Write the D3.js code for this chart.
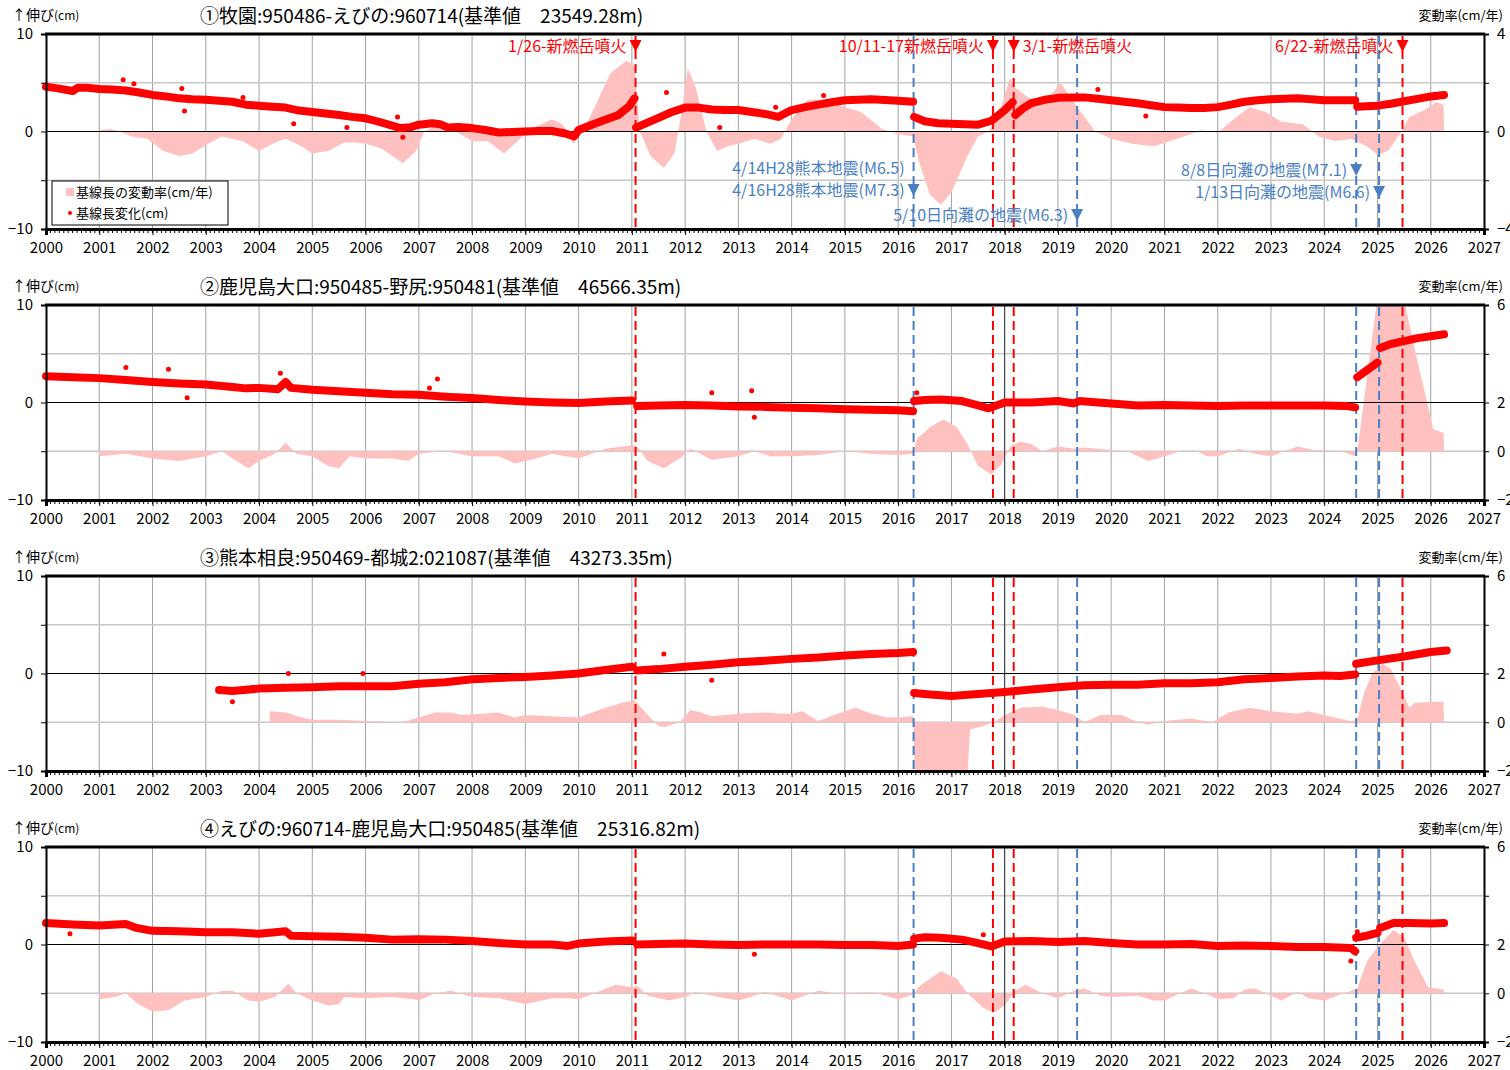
<!DOCTYPE html>
<html>
<head>
<meta charset="utf-8">
<script src="https://cdn.jsdelivr.net/npm/d3@7"></script>
<style>
  body { margin: 0; background: #fff; }
  text { font-family: "Noto Sans CJK JP", "Noto Sans", sans-serif; fill: #000; }
</style>
</head>
<body>
<div id="chart"></div>
<script>
// ---- data ----
const yearTicks = [2000, 2001, 2002, 2003, 2004, 2005, 2006, 2007, 2008, 2009, 2010, 2011, 2012, 2013,
  2014, 2015, 2016, 2017, 2018, 2019, 2020, 2021, 2022, 2023, 2024, 2025, 2026, 2027];

const titles = [
  '①牧園:950486-えびの:960714(基準値　23549.28m)',
  '②鹿児島大口:950485-野尻:950481(基準値　46566.35m)',
  '③熊本相良:950469-都城2:021087(基準値　43273.35m)',
  '④えびの:960714-鹿児島大口:950485(基準値　25316.82m)'
];

// right axis (rate) ranges and labelled ticks
const rateDomains = [[-4, 4], [-2, 6], [-2, 6], [-2, 6]];
const rateTicks = [[-4, -2, 0, 2, 4], [-2, 0, 2, 4, 6], [-2, 0, 2, 4, 6], [-2, 0, 2, 4, 6]];
const rateLabels = [[-4, 0, 4], [-2, 0, 2, 6], [-2, 0, 2, 6], [-2, 0, 2, 6]];

// event dates (decimal year)
const eruptionDates = [2011.07, 2017.78, 2018.17, 2025.47];
const quakeDates = [2016.29, 2019.36, 2024.60, 2025.03];
const extraLineDates = [2018.0]; // dark solid line in panels 2-4

// baseline change (cm), null = break in the record
const p1Dots = [[2000.0,4.6],[2000.25,4.4],[2000.5,4.15],[2000.6,4.5],[2000.75,4.5],[2001.0,4.35],[2001.25,4.3],
  [2001.5,4.2],[2001.75,4.0],[2002.0,3.75],[2002.25,3.6],[2002.5,3.4],[2002.75,3.3],[2003.0,3.25],[2003.25,3.15],
  [2003.5,3.05],[2003.75,2.75],[2004.0,2.65],[2004.25,2.55],[2004.5,2.45],[2004.75,2.15],[2005.0,2.0],[2005.25,1.85],
  [2005.5,1.7],[2005.75,1.5],[2006.0,1.35],[2006.25,1.0],[2006.5,0.6],[2006.65,0.35],[2006.85,0.45],[2007.0,0.7],
  [2007.25,0.85],[2007.4,0.75],[2007.55,0.4],[2007.75,0.45],[2008.0,0.35],[2008.25,0.15],[2008.5,-0.1],[2008.75,-0.05],
  [2009.0,0.0],[2009.25,0.05],[2009.5,0.05],[2009.75,-0.2],[2009.92,-0.5],[2010.0,0.15],[2010.25,0.7],[2010.5,1.2],
  [2010.75,1.7],[2010.95,2.6],[2011.05,3.4], null,
  [2011.08,0.4],[2011.25,0.8],[2011.5,1.4],[2011.75,2.0],[2012.0,2.45],[2012.25,2.45],[2012.5,2.25],[2012.75,2.2],
  [2013.0,2.2],[2013.25,2.0],[2013.5,1.8],[2013.75,1.5],[2014.0,2.2],[2014.25,2.5],[2014.5,2.75],[2014.75,3.0],
  [2015.0,3.2],[2015.5,3.3],[2016.0,3.15],[2016.28,3.05], null,
  [2016.3,1.5],[2016.5,1.05],[2016.75,0.85],[2017.0,0.8],[2017.25,0.75],[2017.5,0.7],[2017.75,1.1],[2018.0,2.2],
  [2018.15,3.0], null,
  [2018.2,1.7],[2018.35,2.4],[2018.5,2.9],[2018.75,3.25],[2019.0,3.45],[2019.25,3.5],[2019.5,3.5],[2019.75,3.35],
  [2020.0,3.2],[2020.25,3.05],[2020.5,2.9],[2020.75,2.7],[2021.0,2.5],[2021.25,2.45],[2021.5,2.4],[2021.75,2.4],
  [2022.0,2.5],[2022.25,2.75],[2022.5,3.05],[2022.75,3.2],[2023.0,3.3],[2023.25,3.35],[2023.5,3.4],[2023.75,3.3],
  [2024.0,3.2],[2024.25,3.2],[2024.58,3.2], null,
  [2024.62,2.55],[2024.8,2.6],[2025.0,2.65],[2025.25,2.85],[2025.5,3.1],[2025.75,3.35],[2026.0,3.6],[2026.25,3.75]];

const p2Dots = [[2000.0,2.7],[2000.5,2.6],[2001.0,2.5],[2001.5,2.3],[2002.0,2.1],[2002.5,1.95],[2003.0,1.85],
  [2003.5,1.6],[2003.75,1.45],[2004.0,1.5],[2004.35,1.35],[2004.5,2.1],[2004.6,1.5],[2005.0,1.3],[2005.5,1.15],
  [2006.0,1.0],[2006.5,0.85],[2007.0,0.8],[2007.5,0.6],[2008.0,0.45],[2008.5,0.25],[2009.0,0.1],[2009.5,0.0],
  [2010.0,-0.05],[2010.5,0.1],[2011.0,0.2], null,
  [2011.1,-0.35],[2011.5,-0.3],[2012.0,-0.25],[2012.5,-0.3],[2013.0,-0.4],[2013.5,-0.45],[2014.0,-0.55],[2014.5,-0.6],
  [2015.0,-0.7],[2015.5,-0.75],[2016.0,-0.8],[2016.28,-0.9], null,
  [2016.3,0.15],[2016.5,0.25],[2016.8,0.3],[2017.2,0.15],[2017.5,-0.3],[2017.7,-0.6],[2018.0,0.0],[2018.5,0.0],
  [2019.0,0.15],[2019.3,-0.1],[2019.4,0.15],[2020.0,-0.1],[2020.5,-0.3],[2021.0,-0.25],[2021.5,-0.3],[2022.0,-0.35],
  [2022.5,-0.3],[2023.0,-0.3],[2023.5,-0.3],[2024.0,-0.3],[2024.4,-0.35],[2024.58,-0.5], null,
  [2024.62,2.6],[2024.8,3.3],[2025.0,4.1], null,
  [2025.05,5.6],[2025.25,6.0],[2025.5,6.3],[2025.75,6.6],[2026.0,6.8],[2026.25,7.0]];

const p3Dots = [[2003.25,-1.7],[2003.5,-1.8],[2004.0,-1.55],[2004.5,-1.45],[2005.0,-1.4],[2005.5,-1.3],[2006.0,-1.3],
  [2006.5,-1.3],[2007.0,-1.05],[2007.5,-0.9],[2008.0,-0.6],[2008.5,-0.45],[2009.0,-0.35],[2009.5,-0.2],[2010.0,0.0],
  [2010.5,0.35],[2011.0,0.7], null,
  [2011.1,0.3],[2011.5,0.45],[2012.0,0.7],[2012.5,0.9],[2013.0,1.15],[2013.5,1.3],[2014.0,1.5],[2014.5,1.65],
  [2015.0,1.85],[2015.5,2.0],[2016.0,2.1],[2016.28,2.2], null,
  [2016.3,-2.0],[2016.6,-2.15],[2017.0,-2.3],[2017.5,-2.1],[2018.0,-1.9],[2018.5,-1.65],[2019.0,-1.4],[2019.5,-1.2],
  [2020.0,-1.15],[2020.5,-1.15],[2021.0,-1.0],[2021.5,-1.0],[2022.0,-0.9],[2022.5,-0.6],[2023.0,-0.45],[2023.5,-0.3],
  [2024.0,-0.2],[2024.3,-0.25],[2024.58,-0.1], null,
  [2024.6,1.0],[2025.0,1.35],[2025.5,1.75],[2026.0,2.2],[2026.3,2.35]];

const p4Dots = [[2000.0,2.2],[2000.5,2.05],[2001.0,1.95],[2001.5,2.1],[2001.7,1.7],[2002.0,1.4],[2002.5,1.35],
  [2003.0,1.25],[2003.5,1.25],[2004.0,1.1],[2004.5,1.35],[2004.6,0.9],[2005.0,0.85],[2005.5,0.8],[2006.0,0.7],
  [2006.5,0.5],[2007.0,0.55],[2007.5,0.5],[2008.0,0.35],[2008.5,0.15],[2009.0,0.0],[2009.5,0.0],[2009.8,-0.15],
  [2010.0,0.1],[2010.5,0.3],[2011.0,0.4], null,
  [2011.1,0.0],[2011.5,0.05],[2012.0,0.1],[2012.5,0.0],[2013.0,-0.05],[2013.5,0.0],[2014.0,0.0],[2014.5,0.0],
  [2015.0,-0.05],[2015.5,-0.05],[2016.0,-0.15],[2016.28,0.0], null,
  [2016.3,0.6],[2016.5,0.75],[2016.8,0.7],[2017.2,0.5],[2017.5,0.15],[2017.75,-0.2],[2018.0,0.3],[2018.5,0.35],
  [2019.0,0.25],[2019.5,0.35],[2020.0,0.15],[2020.5,0.0],[2021.0,0.0],[2021.5,0.05],[2022.0,-0.15],[2022.5,-0.1],
  [2023.0,-0.15],[2023.5,-0.25],[2024.0,-0.25],[2024.5,-0.35],[2024.58,-0.7], null,
  [2024.6,0.7],[2024.8,0.9],[2025.0,1.2], null,
  [2025.05,1.7],[2025.3,2.2],[2025.6,2.2],[2026.0,2.15],[2026.25,2.2]];

// scattered single readings away from the main band
const p1Outliers = [[2001.45,5.3],[2001.65,4.9],[2002.6,2.1],[2002.55,4.4],[2003.7,3.5],[2004.65,0.8],[2005.65,0.4],
  [2006.7,-0.6],[2006.6,1.5],[2011.65,4.0],[2013.7,2.5],[2012.65,0.4],[2019.75,4.3],[2020.65,1.6],[2014.6,3.7]];
const p2Outliers = [[2001.5,3.6],[2002.3,3.4],[2002.65,0.5],[2004.4,3.0],[2007.35,2.4],[2007.2,1.5],[2013.25,1.2],
  [2012.5,1.0],[2013.3,-1.5],[2016.35,1.0]];
const p3Outliers = [[2004.55,0.0],[2005.95,0.0],[2003.5,-2.9],[2011.6,2.0],[2012.5,-0.7]];
const p4Outliers = [[2000.45,1.1],[2024.5,-1.7],[2024.62,1.3],[2017.6,1.0],[2013.3,-1.0]];

// rate of change (cm/yr)
const p1Rate = [[2001.0,0.05],[2001.2,0.1],[2001.4,0.0],[2001.6,-0.2],[2001.9,-0.3],[2002.2,-0.8],[2002.5,-1.0],
  [2002.75,-0.9],[2003.0,-0.55],[2003.3,-0.2],[2003.7,-0.4],[2004.0,-0.8],[2004.3,-0.45],[2004.5,-0.3],[2004.8,-0.6],
  [2005.0,-0.9],[2005.3,-0.8],[2005.6,-0.45],[2005.8,-0.45],[2006.0,-0.5],[2006.3,-0.7],[2006.7,-1.3],[2006.95,-0.8],
  [2007.1,0.0],[2007.4,0.35],[2007.7,0.0],[2008.0,-0.4],[2008.3,-0.4],[2008.6,-0.9],[2008.9,-0.3],[2009.1,0.1],
  [2009.5,0.5],[2009.7,0.3],[2009.9,-0.5],[2010.1,0.1],[2010.3,1.0],[2010.6,2.4],[2010.9,2.9],[2011.05,2.7],
  [2011.15,0.0],[2011.35,-1.0],[2011.6,-1.5],[2011.8,-0.9],[2011.95,1.0],[2012.05,2.6],[2012.2,1.8],[2012.4,0.0],
  [2012.6,-0.8],[2012.8,-0.6],[2013.0,-0.5],[2013.3,-0.3],[2013.6,-0.5],[2013.8,-0.3],[2014.0,0.5],[2014.3,1.3],
  [2014.6,1.3],[2015.0,1.0],[2015.3,0.8],[2015.7,0.1],[2016.0,-0.1],[2016.28,-0.2],[2016.4,-1.3],[2016.6,-2.6],
  [2016.8,-3.0],[2017.0,-2.5],[2017.3,-1.0],[2017.5,-0.2],[2017.7,0.0],[2017.9,0.7],[2018.0,1.5],[2018.1,2.2],
  [2018.2,1.8],[2018.5,1.3],[2018.8,1.3],[2019.05,2.0],[2019.3,1.2],[2019.5,0.6],[2019.7,0.0],[2020.0,-0.3],
  [2020.4,-0.5],[2020.8,-0.6],[2021.1,-0.4],[2021.5,-0.1],[2021.7,0.05],[2022.0,-0.05],[2022.3,0.5],[2022.6,1.0],
  [2022.9,0.8],[2023.2,0.4],[2023.6,0.3],[2023.9,-0.2],[2024.2,-0.4],[2024.5,-0.3],[2024.8,-0.6],[2025.0,-0.95],
  [2025.2,-0.8],[2025.45,0.0],[2025.6,0.6],[2025.9,0.9],[2026.1,1.2],[2026.24,1.1],[2026.25,0]];

const p2Rate = [[2001.0,-0.2],[2001.5,-0.1],[2002.0,-0.3],[2002.5,-0.4],[2003.0,-0.2],[2003.3,0.0],[2003.5,-0.3],
  [2003.8,-0.7],[2004.0,-0.4],[2004.3,-0.1],[2004.5,0.35],[2004.7,-0.1],[2005.0,-0.2],[2005.3,-0.6],[2005.5,-0.7],
  [2005.7,-0.2],[2006.0,-0.3],[2006.5,-0.3],[2006.8,-0.4],[2007.0,-0.1],[2007.5,0.0],[2008.0,-0.2],[2008.5,-0.2],
  [2008.8,-0.5],[2009.2,-0.3],[2009.5,-0.1],[2010.0,-0.3],[2010.5,0.1],[2011.0,0.25],[2011.1,0.2],[2011.3,-0.4],
  [2011.6,-0.7],[2011.9,-0.3],[2012.1,0.1],[2012.5,-0.35],[2013.0,-0.2],[2013.3,0.0],[2013.6,-0.2],[2014.0,-0.2],
  [2014.5,-0.15],[2015.0,0.0],[2015.5,-0.1],[2016.0,-0.15],[2016.28,-0.1],[2016.35,0.5],[2016.6,1.0],[2016.85,1.3],
  [2017.1,1.0],[2017.3,0.3],[2017.5,-0.6],[2017.75,-0.95],[2017.95,-0.5],[2018.1,0.2],[2018.3,0.4],[2018.5,0.3],
  [2018.7,0.0],[2019.0,0.2],[2019.3,0.1],[2019.5,0.15],[2020.0,0.05],[2020.3,0.0],[2020.7,-0.4],[2021.0,-0.2],
  [2021.3,0.0],[2021.6,0.0],[2021.8,-0.2],[2022.0,-0.2],[2022.4,0.1],[2022.7,-0.1],[2023.0,-0.2],[2023.5,0.2],
  [2023.8,0.05],[2024.3,0.0],[2024.6,-0.2],[2024.64,0.3],[2024.98,6.0],[2025.1,7.5],[2025.35,7.5],[2025.52,6.0],
  [2025.75,3.7],[2026.05,0.9],[2026.24,0.75],[2026.25,0]];

const p3Rate = [[2004.2,0.45],[2004.5,0.4],[2004.8,0.2],[2005.0,0.1],[2005.5,0.1],[2006.0,0.05],[2006.5,0.0],
  [2006.6,-0.05],[2007.0,0.2],[2007.3,0.4],[2007.6,0.4],[2007.8,0.3],[2008.2,0.35],[2008.5,0.4],[2008.8,0.2],
  [2009.0,0.3],[2009.5,0.25],[2010.0,0.2],[2010.5,0.6],[2010.9,0.85],[2011.05,0.9],[2011.3,0.3],[2011.5,-0.15],
  [2011.6,-0.2],[2011.9,0.0],[2012.1,0.5],[2012.3,0.4],[2012.5,0.25],[2013.0,0.35],[2013.5,0.4],[2013.8,0.35],
  [2014.0,0.35],[2014.2,0.45],[2014.5,0.05],[2014.8,0.3],[2015.2,0.6],[2015.5,0.35],[2015.8,0.2],[2016.0,0.2],
  [2016.28,0.25],[2016.32,-3.0],[2017.28,-3.0],[2017.35,-0.3],[2017.6,-0.15],[2017.8,0.0],[2018.0,0.3],[2018.3,0.6],
  [2018.7,0.65],[2019.0,0.5],[2019.3,0.3],[2019.5,0.0],[2019.8,0.3],[2020.2,0.3],[2020.5,0.0],[2020.7,-0.1],
  [2021.0,0.05],[2021.5,0.15],[2021.9,0.0],[2022.2,0.4],[2022.6,0.6],[2023.0,0.45],[2023.5,0.35],[2023.7,0.45],
  [2024.2,0.2],[2024.5,0.05],[2024.62,0.1],[2024.75,1.2],[2024.9,2.0],[2025.1,2.4],[2025.25,2.2],[2025.45,1.3],
  [2025.6,0.6],[2025.7,0.8],[2026.24,0.85],[2026.25,0]];

const p4Rate = [[2001.0,-0.25],[2001.3,-0.15],[2001.5,0.0],[2001.7,-0.4],[2002.0,-0.75],[2002.3,-0.7],[2002.6,-0.3],
  [2003.0,-0.15],[2003.3,0.1],[2003.5,0.1],[2003.8,-0.3],[2004.0,-0.35],[2004.3,-0.15],[2004.55,0.4],[2004.7,0.0],
  [2005.0,-0.3],[2005.3,-0.5],[2005.5,-0.45],[2005.6,-0.15],[2006.0,-0.2],[2006.5,-0.15],[2006.9,-0.25],[2007.0,-0.3],
  [2007.3,0.0],[2007.6,0.1],[2008.0,-0.15],[2008.5,-0.2],[2009.0,-0.45],[2009.5,-0.2],[2009.8,-0.2],[2010.0,-0.25],
  [2010.3,0.0],[2010.7,0.35],[2011.0,0.25],[2011.1,0.3],[2011.3,-0.1],[2011.7,-0.3],[2012.0,-0.15],[2012.2,0.05],
  [2012.5,-0.1],[2013.0,-0.3],[2013.3,-0.1],[2013.5,0.05],[2014.0,-0.3],[2014.5,0.1],[2015.0,-0.05],[2015.5,0.05],
  [2016.0,-0.25],[2016.28,-0.05],[2016.4,0.3],[2016.8,0.9],[2017.1,0.6],[2017.3,0.0],[2017.6,-0.6],[2017.8,-0.8],
  [2018.0,-0.5],[2018.2,0.1],[2018.4,0.35],[2018.7,0.0],[2019.0,-0.2],[2019.3,0.1],[2019.5,0.2],[2019.8,-0.1],
  [2020.0,-0.15],[2020.5,-0.1],[2020.8,-0.3],[2021.0,-0.3],[2021.3,0.0],[2021.5,0.2],[2021.8,-0.05],[2022.0,-0.25],
  [2022.3,-0.2],[2022.5,0.15],[2022.7,0.2],[2022.9,0.0],[2023.2,-0.3],[2023.5,0.05],[2023.7,-0.2],[2024.0,-0.3],
  [2024.3,-0.05],[2024.58,0.15],[2024.62,0.2],[2024.8,1.3],[2025.0,1.9],[2025.3,2.6],[2025.5,2.3],[2025.7,1.3],
  [2025.95,0.25],[2026.24,0.15],[2026.25,0]];

const dotSeries = [p1Dots, p2Dots, p3Dots, p4Dots];
const outlierSeries = [p1Outliers, p2Outliers, p3Outliers, p4Outliers];
const rateSeries = [p1Rate, p2Rate, p3Rate, p4Rate];

// annotations of panel 1
const eventLabels = [
  { text: '1/26-新燃岳噴火', date: eruptionDates[0], kind: 'eruption', side: 'left', arrow: true },
  { text: '10/11-17新燃岳噴火', date: eruptionDates[1], kind: 'eruption', side: 'left', arrow: true },
  { text: '3/1-新燃岳噴火', date: eruptionDates[2], kind: 'eruption', side: 'right', arrow: true },
  { text: '6/22-新燃岳噴火', date: eruptionDates[3], kind: 'eruption', side: 'left', arrow: true },
  { text: '4/14H28熊本地震(M6.5)', date: quakeDates[0], kind: 'quake', side: 'left', arrow: false },
  { text: '4/16H28熊本地震(M7.3)', date: quakeDates[0], kind: 'quake', side: 'left', arrow: true },
  { text: '5/10日向灘の地震(M6.3)', date: quakeDates[1], kind: 'quake', side: 'left', arrow: true },
  { text: '8/8日向灘の地震(M7.1)', date: quakeDates[2], kind: 'quake', side: 'left', arrow: true },
  { text: '1/13日向灘の地震(M6.6)', date: quakeDates[3], kind: 'quake', side: 'left', arrow: true }
];
const labelRows = [46, 46, 46, 46, 168, 190, 215, 170, 192];

// ---- layout ----
const svgWidth = 1510;
const svgHeight = 1070;
const plotLeft = 46;
const plotRight = 1484;
const plotH = 195;
const panelTop = 34;
const panelStep = 271;

const RED = '#ff0000';
const BLUE = '#4a7fc4';
const PINK = '#ffc0c0';

const svg = d3.select('#chart')
  .append('svg')
  .attr('width', svgWidth)
  .attr('height', svgHeight);

const x = d3.scaleLinear().domain([2000, 2027]).range([plotLeft, plotRight]);

function drawPanel(i) {
  const top = panelTop + i * panelStep;
  const g = svg.append('g').attr('transform', `translate(0, ${top})`);
  const y = d3.scaleLinear().domain([-10, 10]).range([plotH, 0]);
  const yR = d3.scaleLinear().domain(rateDomains[i]).range([plotH, 0]);

  g.append('clipPath').attr('id', `clip${i}`)
    .append('rect')
    .attr('x', plotLeft).attr('y', 0)
    .attr('width', plotRight - plotLeft).attr('height', plotH);

  // grid
  g.append('g').selectAll('line')
    .data(yearTicks.slice(1, -1))
    .join('line')
    .attr('x1', d => x(d)).attr('x2', d => x(d))
    .attr('y1', 0).attr('y2', plotH)
    .attr('stroke', '#a3a3a3');

  g.append('g').selectAll('line')
    .data([-5, 5])
    .join('line')
    .attr('x1', plotLeft).attr('x2', plotRight)
    .attr('y1', d => y(d)).attr('y2', d => y(d))
    .attr('stroke', '#c8c8c8')
    .attr('stroke-width', 1.5);

  // rate area
  const area = d3.area()
    .x(d => x(d[0]))
    .y0(yR(0))
    .y1(d => yR(d[1]));

  g.append('path')
    .attr('d', area(rateSeries[i]))
    .attr('fill', PINK)
    .attr('clip-path', `url(#clip${i})`);

  // zero line
  g.append('line')
    .attr('x1', plotLeft).attr('x2', plotRight)
    .attr('y1', y(0)).attr('y2', y(0))
    .attr('stroke', '#000').attr('stroke-width', 1.2);

  if (i > 0) {
    g.append('g').selectAll('line')
      .data(extraLineDates)
      .join('line')
      .attr('x1', d => x(d)).attr('x2', d => x(d))
      .attr('y1', 0).attr('y2', plotH)
      .attr('stroke', '#333');
  }

  // event lines
  g.append('g').selectAll('line')
    .data(quakeDates)
    .join('line')
    .attr('x1', d => x(d)).attr('x2', d => x(d))
    .attr('y1', 2).attr('y2', plotH)
    .attr('stroke', BLUE)
    .attr('stroke-width', 2)
    .attr('stroke-dasharray', '9,5');

  g.append('g').selectAll('line')
    .data(eruptionDates)
    .join('line')
    .attr('x1', d => x(d)).attr('x2', d => x(d))
    .attr('y1', 2).attr('y2', plotH)
    .attr('stroke', RED)
    .attr('stroke-width', 2)
    .attr('stroke-dasharray', '9,5');

  // baseline change: dense daily points drawn as a thick band through the read values
  const line = d3.line()
    .defined(d => d !== null)
    .x(d => x(d[0]))
    .y(d => y(d[1]));

  g.append('path')
    .attr('d', line(dotSeries[i]))
    .attr('fill', 'none')
    .attr('stroke', RED)
    .attr('stroke-width', 8)
    .attr('stroke-linejoin', 'round')
    .attr('stroke-linecap', 'round');

  g.append('g').selectAll('circle')
    .data(dotSeries[i].filter(d => d !== null).concat(outlierSeries[i]))
    .join('circle')
    .attr('cx', d => x(d[0]))
    .attr('cy', d => y(d[1]))
    .attr('r', 2.5)
    .attr('fill', RED);

  // frame
  g.append('line')
    .attr('x1', plotLeft - 1).attr('x2', plotRight + 1)
    .attr('y1', 0).attr('y2', 0)
    .attr('stroke', '#000').attr('stroke-width', 3);

  // left axis
  const axisL = g.append('g')
    .attr('transform', `translate(${plotLeft}, 0)`)
    .call(d3.axisLeft(y)
      .tickValues([-10, -5, 0, 5, 10])
      .tickFormat(d => (d % 10 === 0 ? d3.format('')(d) : ''))
      .tickSize(5)
      .tickPadding(8));
  axisL.select('.domain').attr('stroke-width', 2);

  // right axis
  const axisR = g.append('g')
    .attr('transform', `translate(${plotRight}, 0)`)
    .call(d3.axisRight(yR)
      .tickValues(rateTicks[i])
      .tickFormat(d => (rateLabels[i].includes(d) ? d3.format('')(d) : ''))
      .tickSize(5)
      .tickPadding(8));
  axisR.select('.domain').attr('stroke-width', 2);

  // bottom axis with monthly minor ticks
  const months = d3.range(2000, 2027.001, 1 / 12);
  g.append('g')
    .attr('transform', `translate(0, ${plotH})`)
    .selectAll('line')
    .data(months)
    .join('line')
    .attr('x1', d => x(d)).attr('x2', d => x(d))
    .attr('y1', 0).attr('y2', 4)
    .attr('stroke', '#000');

  const axisB = g.append('g')
    .attr('transform', `translate(0, ${plotH})`)
    .call(d3.axisBottom(x)
      .tickValues(yearTicks)
      .tickFormat(d3.format('d'))
      .tickSize(6)
      .tickPadding(7));
  axisB.select('.domain').attr('stroke-width', 3);

  [axisL, axisR, axisB].forEach(a => {
    a.selectAll('text').attr('font-size', 15).attr('font-family', '"Noto Sans CJK JP", sans-serif');
    a.selectAll('.tick line').attr('stroke', '#000');
  });

  // headings
  const unitL = g.append('text')
    .attr('x', 12).attr('y', -14)
    .attr('font-size', 14);
  unitL.append('tspan').text('↑伸び');
  unitL.append('tspan').attr('font-size', 12).text('(cm)');

  g.append('text')
    .attr('x', 200).attr('y', -11)
    .attr('font-size', 19)
    .text(titles[i]);

  g.append('text')
    .attr('x', 1503).attr('y', -14)
    .attr('text-anchor', 'end')
    .attr('font-size', 13)
    .text('変動率(cm/年)');
}

function drawAnnotations() {
  const ann = svg.append('g').attr('class', 'annotations');

  eventLabels.forEach((d, k) => {
    const color = d.kind === 'eruption' ? RED : BLUE;
    const cx = x(d.date);
    const cy = labelRows[k];

    if (d.arrow) {
      ann.append('path')
        .attr('d', `M${cx - 6},${cy - 6}L${cx + 6},${cy - 6}L${cx},${cy + 6}Z`)
        .attr('fill', color);
    }

    ann.append('text')
      .attr('x', d.side === 'left' ? cx - 9 : cx + 9)
      .attr('y', cy + 6)
      .attr('text-anchor', d.side === 'left' ? 'end' : 'start')
      .attr('font-size', 16)
      .style('fill', color)
      .text(d.text);
  });
}

function drawLegend() {
  const lg = svg.append('g').attr('transform', 'translate(52, 181)');
  lg.append('rect')
    .attr('width', 176).attr('height', 44)
    .attr('fill', '#fff').attr('stroke', '#000');

  lg.append('rect')
    .attr('x', 14).attr('y', 7)
    .attr('width', 8).attr('height', 8)
    .attr('fill', PINK);
  lg.append('text')
    .attr('x', 24).attr('y', 16)
    .attr('font-size', 13)
    .text('基線長の変動率(cm/年)');

  lg.append('circle')
    .attr('cx', 18).attr('cy', 32)
    .attr('r', 2)
    .attr('fill', RED);
  lg.append('text')
    .attr('x', 24).attr('y', 37)
    .attr('font-size', 13)
    .text('基線長変化(cm)');
}

[0, 1, 2, 3].forEach(drawPanel);
drawAnnotations();
drawLegend();
</script>
</body>
</html>
